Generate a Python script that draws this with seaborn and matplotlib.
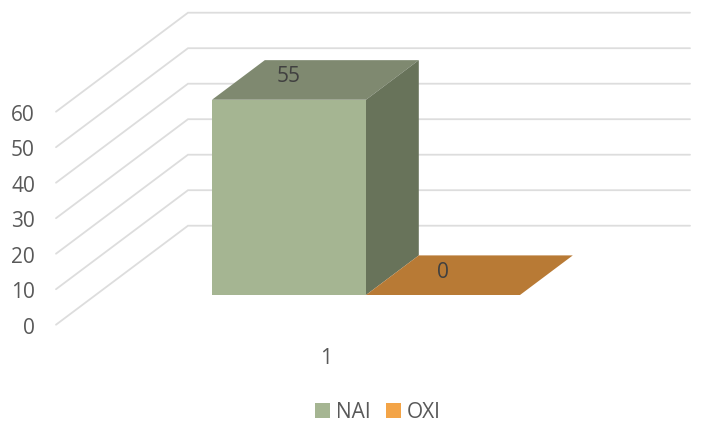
import matplotlib
matplotlib.use("Agg")
import matplotlib.pyplot as plt
from matplotlib.patches import Polygon
import pandas as pd
import seaborn as sns

categories = ["1"]
series_names = ["NAI", "OXI"]
nai_values = [55]
oxi_values = [0]
axis_ticks = [0, 10, 20, 30, 40, 50, 60]

FRONT = {"NAI": "#A5B592", "OXI": "#F3A447"}
TOP = {"NAI": "#7F8970", "OXI": "#B87A35"}
SIDE = "#68735A"
GRID = "#DDDDDD"
TEXT = "#595959"
LABEL = "#404040"

sns.set_theme(style="white")
plt.rcParams["font.family"] = ["Open Sans", "DejaVu Sans"]

W, H = 718, 421
fig = plt.figure(figsize=(W / 100, H / 100), dpi=100)
ax = fig.add_axes([0, 0, 1, 1])

df = pd.DataFrame({
    "category": categories * 2,
    "series": series_names,
    "value": nai_values + oxi_values,
})
sns.barplot(data=df, x="category", y="value", hue="series", hue_order=series_names,
            palette=FRONT, width=0.8, gap=0, linewidth=0, saturation=1, ax=ax, zorder=3)

# one data unit in pixels, and the placement of the bar plane in the frame
px_x, px_y = 385.0, 3.55
ax.set_xlim(-366 / px_x, (W - 366) / px_x)
ax.set_ylim((295 - H) / px_y, 295 / px_y)
ax.axis("off")

# depth of one unit of the chart's floor, as a shift in data units
dx, dy = 132 / px_x, 99 / px_y
front, back, bar_depth = -0.3, 0.7, 0.4


def shift(x, y, d):
    return x + d * dx, y + d * dy


right = (690 - 366) / px_x
left_x = (56 - 366) / px_x
wall_x = left_x + (back - front) * dx
for v in axis_ticks:
    p0 = shift(0, v, front)
    p1 = shift(0, v, back)
    ax.plot([left_x, wall_x, right], [p0[1], p1[1], p1[1]], color=GRID, lw=1.3,
            zorder=1, solid_joinstyle="miter")
    ax.text((35 - 366) / px_x, p0[1] - 0.95, str(v), ha="right", va="center",
            fontsize=15, color=TEXT)

for name, container in zip(series_names, ax.containers):
    for bar in container:
        x0, w, h = bar.get_x(), bar.get_width(), bar.get_height()
        x1 = x0 + w
        top = [(x0, h), (x1, h), shift(x1, h, bar_depth), shift(x0, h, bar_depth)]
        ax.add_patch(Polygon(top, closed=True, fc=TOP[name], ec="none", zorder=3))
        if h > 0:
            side = [(x1, 0), (x1, h), shift(x1, h, bar_depth), shift(x1, 0, bar_depth)]
            ax.add_patch(Polygon(side, closed=True, fc=SIDE, ec="none", zorder=3))
        lx, ly = x0 + w / 2, h + bar_depth / 2 * dy + 0.9
        ax.text(lx, ly, f"{h:.0f}", ha="center", va="center", fontsize=15,
                color=LABEL, zorder=5)

cx, _ = shift(0, 0, front)
ax.text(cx, (295 - 359) / px_y, categories[0], ha="center", va="center",
        fontsize=15, color=TEXT)

sns.move_legend(ax, "center", bbox_to_anchor=(378 / W, 1 - 412 / H),
                bbox_transform=fig.transFigure, ncol=2, frameon=False, title=None,
                fontsize=15, labelcolor=TEXT, handlelength=0.7, handleheight=0.7,
                handletextpad=0.3, columnspacing=0.75, borderpad=0, borderaxespad=0)

fig.savefig("out.png", dpi=100)
